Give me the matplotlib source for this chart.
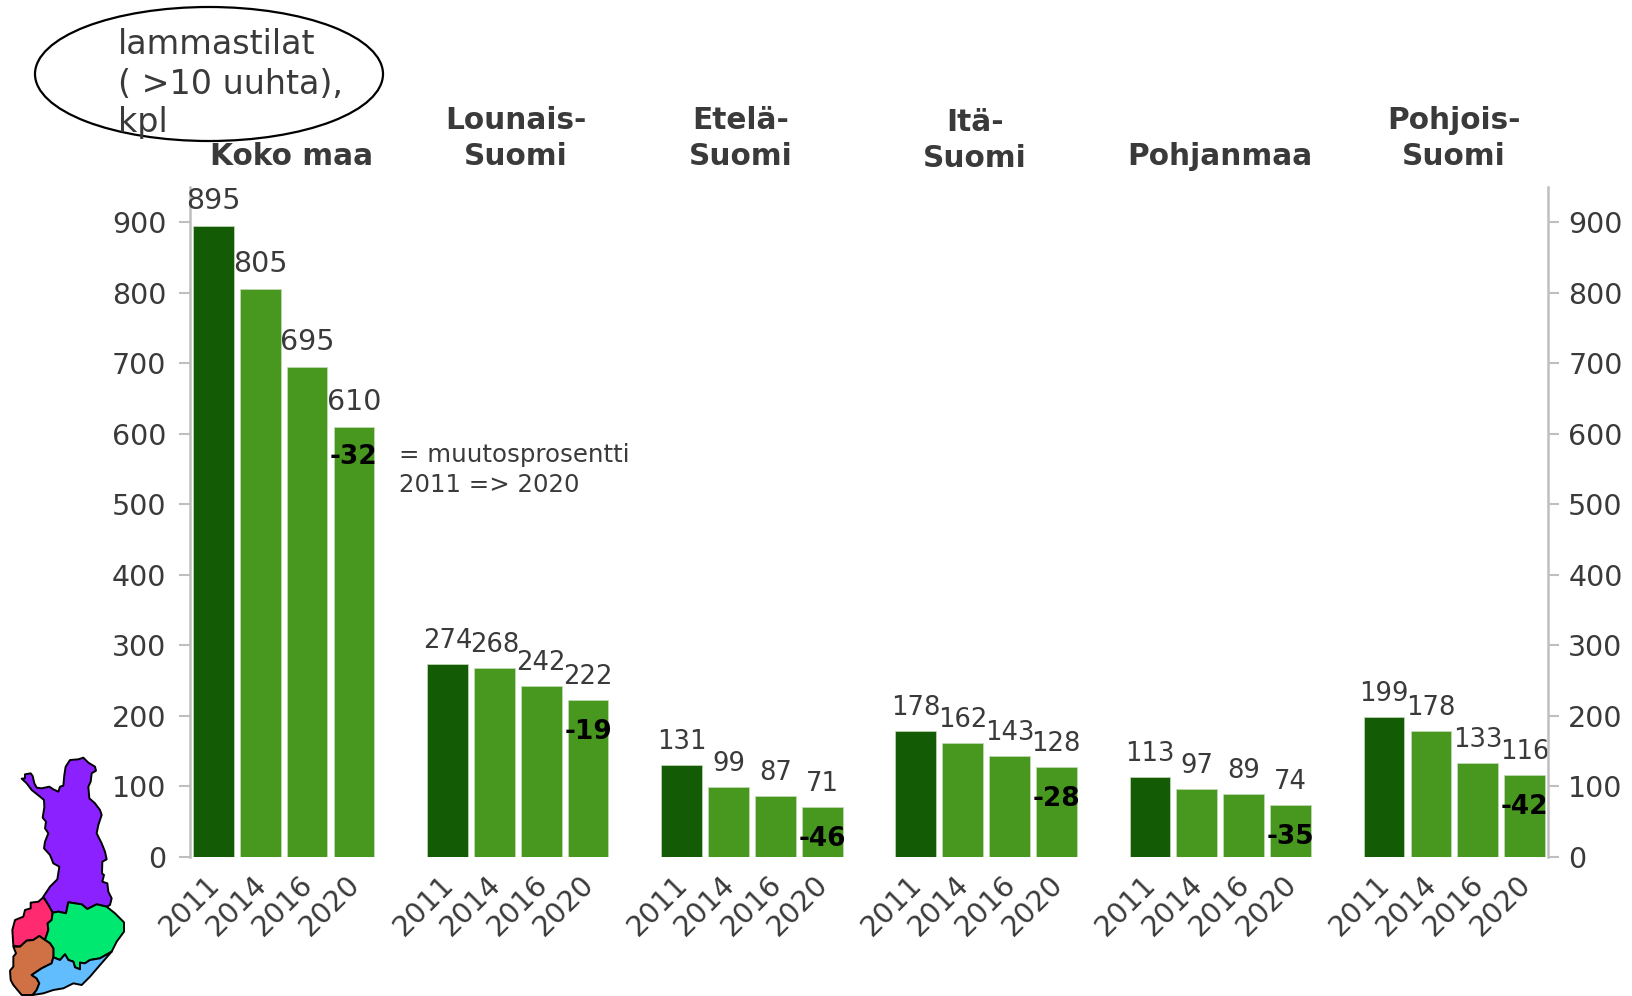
import numpy as np
import matplotlib
matplotlib.use('Agg')
import matplotlib.pyplot as plt
from matplotlib.patches import Ellipse, Polygon
from matplotlib.transforms import ScaledTranslation

W, H = 1632, 996

# data
regions = ['Koko maa', 'Lounais-\nSuomi', 'Etelä-\nSuomi', 'Itä-\nSuomi', 'Pohjanmaa', 'Pohjois-\nSuomi']
years = ['2011', '2014', '2016', '2020']
koko_maa = [895, 805, 695, 610]
lounais = [274, 268, 242, 222]
etela = [131, 99, 87, 71]
ita = [178, 162, 143, 128]
pohjanmaa = [113, 97, 89, 74]
pohjois = [199, 178, 133, 116]
groups = [koko_maa, lounais, etela, ita, pohjanmaa, pohjois]
change = [-32, -19, -46, -28, -35, -42]
yticks = [0, 100, 200, 300, 400, 500, 600, 700, 800, 900]

# region title positions in pixels (x, y of lower line)
title_pos = [(292, 156), (516, 156), (741, 156), (975, 158), (1220, 156), (1454, 156)]

# map outlines, traced in pixels
map_purple = [(65,176),(75,175),(75,163),(92,160),(98,168),(103,190),(110,203),(125,205),(148,200),(160,208),
              (175,215),(180,200),(190,197),(193,165),(197,140),(210,120),(235,118),(250,113),(265,128),(285,140),
              (288,152),(275,160),(272,185),(265,200),(268,235),(285,250),(300,270),(305,285),(295,315),(290,340),
              (305,370),(315,395),(320,418),(307,425),(306,460),(312,465),(307,485),(322,490),(325,515),(335,535),
              (330,555),(320,560),(290,553),(262,567),(245,553),(205,547),(198,580),(175,575),(158,578),(145,555),
              (130,530),(150,500),(172,478),(178,440),(160,430),(150,405),(132,385),(135,365),(145,340),(135,325),
              (138,305),(128,293),(133,262),(132,240),(120,230),(95,210),(80,190)]
map_pink = [(130,532),(145,555),(158,578),(155,600),(143,610),(145,630),(135,660),(118,648),(100,660),(80,662),
            (60,680),(40,677),(37,630),(45,600),(70,590),(75,570),(92,565),(92,548),(115,545)]
map_green = [(158,578),(175,575),(198,580),(205,547),(245,553),(262,567),(290,553),(320,560),(345,580),(372,607),
             (372,635),(350,665),(335,695),(300,715),(270,720),(255,730),(240,728),(240,748),(225,742),(220,725),
             (205,720),(195,703),(180,720),(160,712),(160,685),(150,670),(135,660),(145,630),(143,610),(155,600)]
map_brown = [(40,680),(60,680),(80,662),(100,660),(118,648),(135,660),(150,670),(160,685),(160,712),(155,730),
             (125,745),(95,765),(110,775),(118,790),(110,810),(98,825),(65,825),(40,795),(32,780),(30,752),
             (40,740),(40,710),(48,700)]
map_blue = [(155,730),(160,712),(180,720),(195,703),(205,720),(220,725),(225,742),(240,748),(240,728),(255,730),
            (270,720),(300,715),(335,695),(300,735),(270,770),(245,795),(220,790),(190,805),(160,810),(130,820),
            (98,825),(110,810),(118,790),(110,775),(95,765),(125,745)]

txt = '#3a3a3a'
grey = '#bfbfbf'
dark = '#135b05'
light = '#48981f'

fig = plt.figure(figsize=(W/100, H/100), dpi=100)
ax = fig.add_axes([190/W, 1-857/H, (1548-190)/W, (857-187)/H])

pos = 0
ticks = []
labels = []
for g, vals in enumerate(groups):
    # the national group has larger value labels than the regions
    size = 20.5 if g == 0 else 18.6
    above = 11 if g == 0 else 10
    below = -30 if g == 0 else -32
    for i, v in enumerate(vals):
        col = dark if i == 0 else light
        ax.bar(pos, v, width=0.87, color=col, edgecolor='#c5dcb8', linewidth=0.5)
        ax.annotate(str(v), (pos, v), xytext=(0, above), textcoords='offset pixels', ha='center', va='bottom',
                    fontsize=size, color=txt)
        if i == 3:
            ax.annotate(str(change[g]), (pos, v), xytext=(0, below), textcoords='offset pixels', ha='center',
                        va='center', fontsize=19, fontweight='bold', color='black')
        ticks.append(pos)
        labels.append(years[i])
        pos += 1
    pos += 1

ax.set_xlim(-0.5, 28.5)
ax.set_ylim(0, 950)
ax.set_yticks(yticks)
ax.set_xticks(ticks)
ax.set_xticklabels(labels, rotation=45, ha='right', rotation_mode='anchor', fontsize=20.5, color=txt)
ax.tick_params(axis='x', length=0, pad=9.5)
shift = ScaledTranslation(-8/100, 0, fig.dpi_scale_trans)
for lab in ax.get_xticklabels():
    lab.set_transform(lab.get_transform() + shift)
ax.tick_params(axis='y', length=8, width=1.5, color=grey, labelsize=20.5, labelcolor=txt, pad=9)
for s in ['top', 'right', 'bottom']:
    ax.spines[s].set_visible(False)
ax.spines['left'].set_color(grey)
ax.spines['left'].set_linewidth(1.8)

ax2 = ax.twinx()
ax2.set_ylim(0, 950)
ax2.set_yticks(yticks)
ax2.tick_params(axis='y', length=8, width=1.5, color=grey, labelsize=20.5, labelcolor=txt, pad=6.5)
for s in ['top', 'left', 'bottom']:
    ax2.spines[s].set_visible(False)
ax2.spines['right'].set_color(grey)
ax2.spines['right'].set_linewidth(1.8)

# overlay in pixel coordinates
ov = fig.add_axes([0, 0, 1, 1])
ov.set_xlim(0, W)
ov.set_ylim(H, 0)
ov.axis('off')
ov.patch.set_alpha(0)

ov.add_patch(Ellipse((209, 74), 348, 134, facecolor='none', edgecolor='black', linewidth=1.6))
ov.text(118, 54, 'lammastilat', fontsize=24, color=txt, va='baseline')
ov.text(118, 94, '( >10 uuhta),', fontsize=24, color=txt, va='baseline')
ov.text(118, 132, 'kpl', fontsize=24, color=txt, va='baseline')

for name, (x, y) in zip(regions, title_pos):
    parts = name.split('\n')
    ov.text(x, y, parts[-1], ha='center', va='center', fontsize=21.3, fontweight='bold', color=txt)
    if len(parts) == 2:
        ov.text(x, y - 36, parts[0], ha='center', va='center', fontsize=21.3, fontweight='bold', color=txt)

ov.text(399, 455, '= muutosprosentti', fontsize=17.6, color=txt, va='center')
ov.text(399, 485, '2011 => 2020', fontsize=17.6, color=txt, va='center')

for poly, col in [(map_purple, '#8b21ff'), (map_pink, '#ff2a70'), (map_green, '#00e86f'),
                  (map_brown, '#cf7144'), (map_blue, '#62bdff')]:
    pts = np.array(poly, float) / 3 + np.array([0, 720])
    ov.add_patch(Polygon(pts, closed=True, facecolor=col, edgecolor='black', linewidth=1.4, joinstyle='round'))

fig.savefig('out.png', dpi=100)
